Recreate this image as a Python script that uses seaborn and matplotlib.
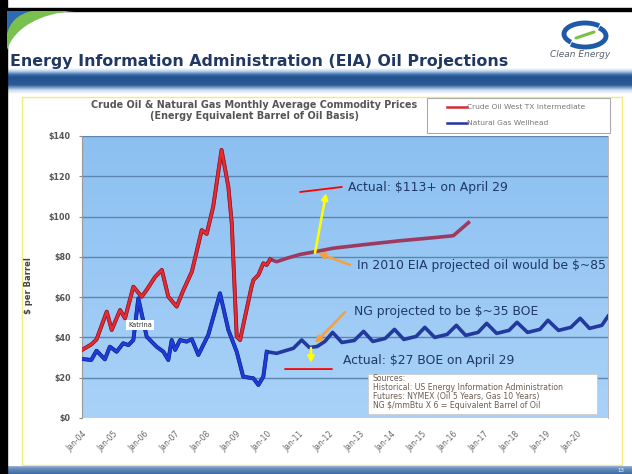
import numpy as np
import pandas as pd
import matplotlib
matplotlib.use('Agg')
import matplotlib.pyplot as plt
import seaborn as sns
from matplotlib.patches import Rectangle, PathPatch, Arc
from matplotlib.path import Path
from matplotlib.lines import Line2D
from matplotlib.colors import LinearSegmentedColormap, to_rgb

# Crude oil (WTI) monthly average, $ per barrel
oil_years = [2004.0, 2004.3, 2004.47, 2004.8, 2004.96, 2005.23, 2005.39, 2005.66, 2005.93,
             2006.09, 2006.36, 2006.58, 2006.79, 2007.06, 2007.28, 2007.55, 2007.87, 2008.03,
             2008.24, 2008.51, 2008.73, 2008.84, 2009.0, 2009.11, 2009.27, 2009.48, 2009.54,
             2009.7, 2009.86, 2009.97, 2010.08, 2010.29, 2010.62, 2011.05, 2011.55, 2012.12,
             2013.2, 2014.28, 2015.35, 2016.0, 2016.49]
oil_prices = [33.8, 36.5, 39.0, 52.8, 43.7, 53.6, 49.5, 65.2, 60.2,
              63.6, 70.0, 73.5, 60.2, 55.3, 63.6, 72.6, 93.3, 91.4,
              104.9, 133.1, 114.8, 96.7, 40.4, 38.7, 50.3, 65.2, 68.5,
              71.0, 76.8, 76.0, 78.8, 77.6, 79.3, 81.2, 82.6, 84.3,
              86.2, 88.0, 89.5, 90.5, 97.0]

# Natural gas wellhead, $ per barrel of oil equivalent
gas_years = [2004.0, 2004.3, 2004.47, 2004.74, 2004.9, 2005.12, 2005.33, 2005.5, 2005.66,
             2005.82, 2006.09, 2006.41, 2006.63, 2006.79, 2006.9, 2007.01, 2007.17, 2007.38,
             2007.55, 2007.76, 2008.08, 2008.46, 2008.73, 2009.0, 2009.21, 2009.54, 2009.7,
             2009.86, 2009.97, 2010.29, 2010.83, 2011.1, 2011.35, 2011.6, 2011.85,
             2012.1, 2012.4, 2012.8, 2013.1, 2013.4, 2013.8, 2014.1, 2014.4, 2014.8,
             2015.08, 2015.4, 2015.8, 2016.1, 2016.4, 2016.8, 2017.08, 2017.4, 2017.8,
             2018.06, 2018.4, 2018.8, 2019.06, 2019.4, 2019.8, 2020.1, 2020.4, 2020.8, 2021.0]
gas_prices = [29.3, 28.8, 33.4, 29.1, 35.4, 32.9, 37.1, 36.2, 38.7,
              59.4, 40.4, 35.4, 32.9, 28.8, 38.7, 33.8, 38.7, 37.9,
              39.1, 31.3, 41.2, 61.9, 43.7, 32.9, 20.5, 19.7, 16.4,
              20.5, 32.9, 32.1, 34.6, 38.7, 35.0, 35.5, 38.0,
              42.5, 37.5, 38.5, 43.0, 38.0, 39.5, 44.0, 39.0, 40.5,
              45.0, 40.0, 41.5, 46.0, 41.0, 42.5, 47.0, 42.0, 43.5,
              47.5, 42.5, 44.0, 48.5, 43.5, 45.0, 49.5, 44.5, 46.0, 50.5]

hist_end = 2010.2  # after this the lines are futures / projections

tick_years = list(range(2004, 2021))
tick_labels = ['Jan-%02d' % (y % 100) for y in tick_years]
y_ticks = [0, 20, 40, 60, 80, 100, 120, 140]
y_tick_labels = ['$%d' % v for v in y_ticks]

sources = ['Sources:',
           'Historical: US Energy Information Administration',
           'Futures: NYMEX (Oil 5 Years, Gas 10 Years)',
           'NG $/mmBtu X 6 = Equivalent Barrel of Oil']

oil = pd.DataFrame({'year': oil_years, 'price': oil_prices})
gas = pd.DataFrame({'year': gas_years, 'price': gas_prices})

plt.rcParams['font.family'] = ['DejaVu Sans']
navy = '#1f3864'

fig = plt.figure(figsize=(6.32, 4.74), dpi=100)

# ---- slide background (pixel coordinates) ----
bg = fig.add_axes([0, 0, 1, 1], zorder=0)
bg.set_xlim(0, 632)
bg.set_ylim(474, 0)
bg.axis('off')


def vgrad(stops, n=200):
    pos = np.array([s[0] for s in stops])
    cols = np.array([to_rgb(s[1]) for s in stops])
    t = np.linspace(0, 1, n)
    arr = np.stack([np.interp(t, pos, cols[:, i]) for i in range(3)], axis=-1)
    return arr.reshape(n, 1, 3)


bg.add_patch(Rectangle((0, 0), 7, 474, color='black', zorder=2))
bg.add_patch(Rectangle((7, 8), 625, 3, color='black', zorder=2))

# swoosh at the top left corner
g = Path([(7, 11), (75, 11), (40, 13), (14, 28), (7, 50), (7, 11)],
         [Path.MOVETO, Path.LINETO, Path.CURVE4, Path.CURVE4, Path.CURVE4, Path.CLOSEPOLY])
bg.add_patch(PathPatch(g, fc='#79c04f', ec='none', zorder=3))
b = Path([(7, 11), (32, 11), (18, 14), (10, 22), (7, 34), (7, 11)],
         [Path.MOVETO, Path.LINETO, Path.CURVE4, Path.CURVE4, Path.CURVE4, Path.CLOSEPOLY])
bg.add_patch(PathPatch(b, fc='#2f68b4', ec='none', zorder=4))

# header band
bg.imshow(vgrad([(0, '#ffffff'), (0.12, '#b9d2ec'), (0.25, '#3d6cab'), (0.35, '#22528d'),
                 (0.65, '#2a5b97'), (0.85, '#c9dbef'), (1, '#ffffff')]),
          extent=[7, 632, 94, 68], aspect='auto', zorder=1)
bg.text(10, 61, 'Energy Information Administration (EIA) Oil Projections',
        fontsize=11.4, fontweight='bold', color=navy, va='center', ha='left', zorder=5)

# logo
bg.add_patch(Arc((585, 34), 42, 22, theta1=150, theta2=330, lw=3.5, color='#1f5aa8', zorder=5))
bg.add_patch(Arc((585, 36), 42, 22, theta1=330, theta2=150, lw=3.5, color='#1f5aa8', zorder=5))
bg.plot([576, 594], [38, 32], color='#7ac143', lw=2.2, solid_capstyle='round', zorder=6)
bg.text(580, 54, 'Clean Energy', fontsize=6.5, style='italic', color='#59606b',
        ha='center', va='center', zorder=5)

# content box and bottom band
bg.add_patch(Rectangle((22, 97), 600, 368, fc='white', ec='#f2ec78', lw=1, zorder=1))
bg.imshow(vgrad([(0, '#9fb7d6'), (0.3, '#6a8fbf'), (1, '#3f6aa2')]),
          extent=[7, 632, 474, 466], aspect='auto', zorder=1)
bg.text(621, 470, '13', fontsize=4, color='white', ha='center', va='center', zorder=5)

# chart title + legend
bg.text(254, 105, 'Crude Oil & Natural Gas Monthly Average Commodity Prices',
        fontsize=6.9, fontweight='bold', color='#555555', ha='center', va='center', zorder=5)
bg.text(254, 116, '(Energy Equivalent Barrel of Oil Basis)',
        fontsize=6.9, fontweight='bold', color='#555555', ha='center', va='center', zorder=5)
bg.add_patch(Rectangle((427, 98), 183, 35, fc='white', ec='#aaaaaa', lw=0.8, zorder=4))
bg.add_line(Line2D([447, 467], [107, 107], color='#d62a35', lw=1.8, zorder=5))
bg.add_line(Line2D([447, 467], [123, 123], color='#2233aa', lw=1.8, zorder=5))
bg.text(467, 107, 'Crude Oil West TX Intermediate', fontsize=5.4, color='#777777',
        va='center', zorder=5)
bg.text(467, 123, 'Natural Gas Wellhead', fontsize=5.4, color='#777777', va='center', zorder=5)

# ---- chart ----
ax = fig.add_axes([82 / 632, 1 - 418 / 474, 526 / 632, 282 / 474], zorder=1)
grad = np.linspace(0, 1, 256).reshape(-1, 1)
ax.imshow(grad, extent=[2004, 2021, 0, 140], origin='lower', aspect='auto', zorder=0,
          cmap=LinearSegmentedColormap.from_list('plotbg', ['#a9d2f8', '#8cc0f1']))
for v in y_ticks[1:]:
    ax.axhline(v, color='#5c86b2', lw=1, zorder=1)

oil_hist = oil[oil['year'] <= hist_end]
gas_hist = gas[gas['year'] <= hist_end]
sns.lineplot(data=oil, x='year', y='price', ax=ax, color='#9c3a60', lw=2.6, estimator=None, zorder=3)
sns.lineplot(data=oil_hist, x='year', y='price', ax=ax, color='#8c1d38', lw=2.8, estimator=None, zorder=3)
sns.lineplot(data=oil_hist, x='year', y='price', ax=ax, color='#ee2b2b', lw=1.6, estimator=None, zorder=4)
sns.lineplot(data=gas, x='year', y='price', ax=ax, color='#22399e', lw=2.6, estimator=None, zorder=3)
sns.lineplot(data=gas_hist, x='year', y='price', ax=ax, color='#1a2a9a', lw=2.8, estimator=None, zorder=3)
sns.lineplot(data=gas_hist, x='year', y='price', ax=ax, color='#1b3ee0', lw=1.6, estimator=None, zorder=4)

ax.set_xlim(2004, 2021)
ax.set_ylim(0, 140)
ax.set_xticks(tick_years)
ax.set_xticklabels(tick_labels, rotation=45, ha='right', rotation_mode='anchor',
                   fontsize=5.5, color='#666666')
ax.set_yticks(y_ticks)
ax.set_yticklabels(y_tick_labels, fontsize=5.8, fontweight='bold', color='#555555')
ax.tick_params(axis='x', length=0, pad=8)
ax.tick_params(axis='y', length=2, pad=6, color='#888888')
ax.set_xlabel('')
ax.set_ylabel('$ per Barrel', fontsize=6, fontweight='bold', color='#444444')
ax.yaxis.set_label_coords(-0.093, 0.47)
for s in ['top', 'bottom']:
    ax.spines[s].set_visible(False)
ax.spines['left'].set_color('#999999')
ax.spines['right'].set_color('#bbbbbb')
ax.spines['left'].set_linewidth(0.8)
ax.spines['right'].set_linewidth(0.8)

# Katrina tag
ax.text(2005.87, 46.4, 'Katrina', fontsize=4.8, color='#333333', ha='center', va='center',
        zorder=6, bbox=dict(boxstyle='square,pad=0.3', fc='white', ec='none'))

# callouts
def seg(p0, p1, color, lw, style='-'):
    ax.annotate('', xy=p1, xytext=p0, zorder=7, annotation_clip=False,
                arrowprops=dict(arrowstyle=style, color=color, lw=lw,
                                shrinkA=0, shrinkB=0, mutation_scale=9))


seg((2011.05, 112.2), (2012.4, 114.7), 'red', 1.3)
seg((2011.53, 81.9), (2011.89, 111.7), '#ffff00', 1.8, '-|>')
seg((2012.66, 76.0), (2011.63, 81.9), '#f7a03c', 1.8, '-|>')
seg((2012.5, 52.6), (2011.53, 37.2), '#f7a03c', 1.8, '-|>')
seg((2011.4, 34.8), (2011.4, 27.3), '#ffff00', 1.8, '-|>')
seg((2010.56, 24.3), (2012.08, 24.3), 'red', 1.3)

ax.text(2012.6, 114.2, 'Actual: $113+ on April 29', fontsize=8.9, color=navy, va='center', zorder=7)
ax.text(2012.89, 75.5, 'In 2010 EIA projected oil would be $~85', fontsize=8.9, color=navy,
        va='center', zorder=7, clip_on=False)
ax.text(2012.79, 53.1, 'NG projected to be $~35 BOE', fontsize=8.9, color=navy, va='center', zorder=7)
ax.text(2012.44, 28.3, 'Actual: $27 BOE on April 29', fontsize=8.9, color=navy, va='center', zorder=7)

# sources box
ax.add_patch(Rectangle((2013.24, 2.0), 2020.64 - 2013.24, 19.8, fc='white', ec='#cccccc',
                       lw=0.6, zorder=6))
for i, line in enumerate(sources):
    ax.text(2013.4, 19.4 - i * 4.45, line, fontsize=5.6, color='#6b5d50', va='center', zorder=7)

fig.savefig('out.png', dpi=100)
